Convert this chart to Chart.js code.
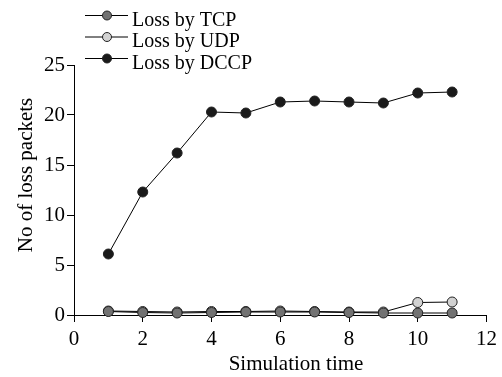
<!DOCTYPE html>
<html>
<head>
<meta charset="utf-8">
<script src="https://cdn.jsdelivr.net/npm/chart.js@4"></script>
<style>
  html, body { margin: 0; padding: 0; background: #fff; }
  #wrap { width: 502px; height: 377px; }
</style>
</head>
<body>
<div id="wrap"><canvas id="chart"></canvas></div>
<script>
const times = [1, 2, 3, 4, 5, 6, 7, 8, 9, 10, 11];
const lossTCP = [0.35, 0.25, 0.2, 0.25, 0.3, 0.3, 0.3, 0.25, 0.2, 0.2, 0.2];
const lossUDP = [0.4, 0.35, 0.3, 0.35, 0.35, 0.4, 0.35, 0.3, 0.3, 1.25, 1.3];
const lossDCCP = [6.1, 12.3, 16.2, 20.3, 20.2, 21.3, 21.4, 21.3, 21.2, 22.2, 22.3];
const xTicks = [0, 2, 4, 6, 8, 10, 12];
const yTicks = [0, 5, 10, 15, 20, 25];

const FONT = '"Liberation Serif", "Times New Roman", serif';

const series = [
  { label: 'Loss by TCP', data: lossTCP, fill: '#727272' },
  { label: 'Loss by UDP', data: lossUDP, fill: '#d2d2d2' },
  { label: 'Loss by DCCP', data: lossDCCP, fill: '#1a1a1a' }
];
// drawing order: DCCP on top, then TCP, then UDP underneath
const drawOrder = [2, 0, 1];

// legend (line + marker) and both axis titles, which sit a bit off centre in the original
const extrasPlugin = {
  id: 'extras',
  afterDraw(chart) {
    const ctx = chart.ctx;
    ctx.save();
    series.forEach((s, i) => {
      const y = 15.5 + i * 21.5;
      ctx.strokeStyle = '#000';
      ctx.lineWidth = 1;
      ctx.beginPath();
      ctx.moveTo(85, y);
      ctx.lineTo(128, y);
      ctx.stroke();
      ctx.beginPath();
      ctx.arc(107, y, 4.5, 0, Math.PI * 2);
      ctx.fillStyle = s.fill;
      ctx.fill();
      ctx.strokeStyle = '#222';
      ctx.stroke();
      ctx.fillStyle = '#000';
      ctx.font = '20px ' + FONT;
      ctx.textBaseline = 'alphabetic';
      ctx.fillText(s.label, 132, y + 10);
    });
    ctx.font = '21px ' + FONT;
    ctx.textAlign = 'center';
    ctx.textBaseline = 'alphabetic';
    ctx.fillText('Simulation time', 296, 370);
    ctx.translate(26, 175);
    ctx.rotate(-Math.PI / 2);
    ctx.textBaseline = 'middle';
    ctx.fillText('No of loss packets', 0, 0);
    ctx.restore();
  }
};

new Chart(document.getElementById('chart'), {
  type: 'line',
  data: {
    datasets: drawOrder.map(k => series[k]).map(s => ({
      label: s.label,
      data: times.map((t, i) => ({ x: t, y: s.data[i] })),
      borderColor: '#000',
      borderWidth: 1,
      pointRadius: 5,
      pointBackgroundColor: s.fill,
      pointBorderColor: '#222',
      pointBorderWidth: 1,
      tension: 0,
      clip: false
    }))
  },
  options: {
    responsive: true,
    maintainAspectRatio: false,
    animation: false,
    layout: { padding: { top: 65, right: 14, left: 0, bottom: 0 } },
    plugins: { legend: { display: false }, tooltip: { enabled: false } },
    scales: {
      x: {
        type: 'linear',
        min: 0,
        max: 12,
        afterBuildTicks: scale => { scale.ticks = xTicks.map(v => ({ value: v })); },
        afterFit: scale => { scale.height = 62; },
        border: { color: '#000', width: 1 },
        grid: { drawOnChartArea: false, drawTicks: true, tickLength: 7, color: '#000' },
        ticks: { color: '#000', font: { family: FONT, size: 21 }, padding: 5, maxRotation: 0 },
        title: { display: false }
      },
      y: {
        min: 0,
        max: 25,
        afterBuildTicks: scale => { scale.ticks = yTicks.map(v => ({ value: v })); },
        afterFit: scale => { scale.width = 74; },
        border: { color: '#000', width: 1 },
        grid: { drawOnChartArea: false, drawTicks: true, tickLength: 7, color: '#000' },
        ticks: { color: '#000', font: { family: FONT, size: 21 }, padding: 2 },
        title: { display: false }
      }
    }
  },
  plugins: [extrasPlugin]
});
</script>
</body>
</html>
